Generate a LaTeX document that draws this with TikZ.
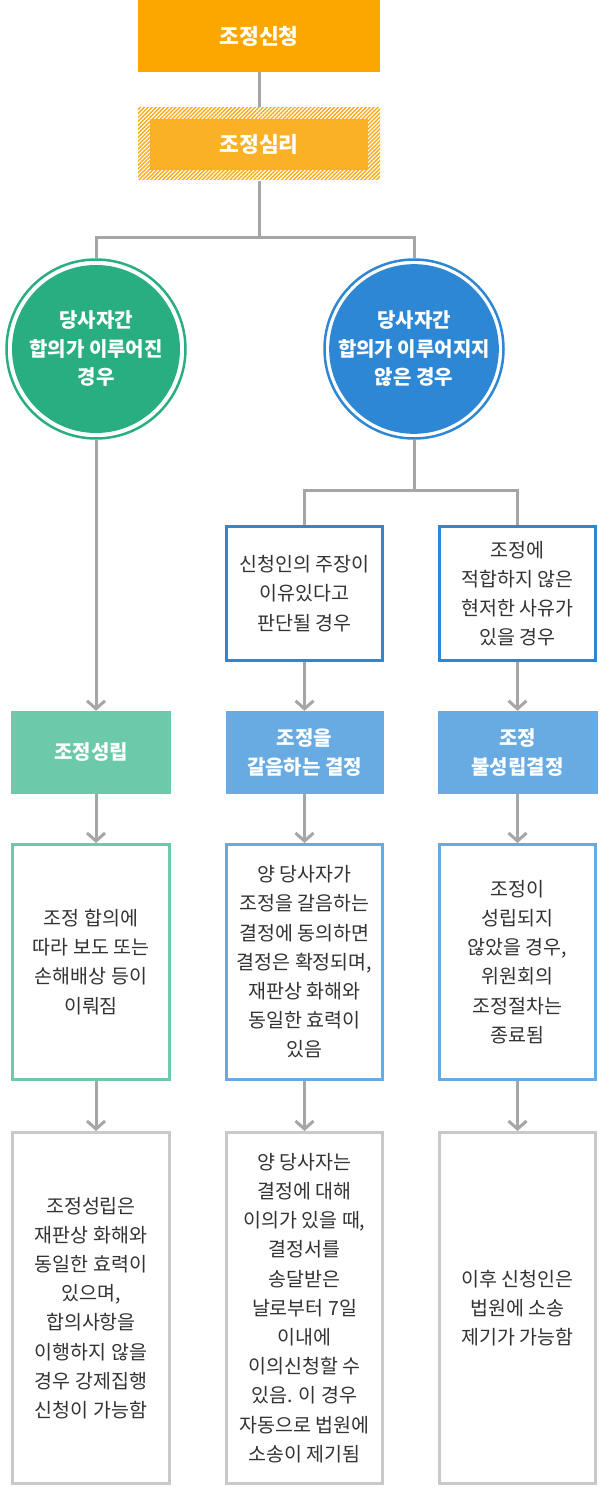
\documentclass[tikz,border=0pt]{standalone}
\usepackage{fontspec}
\setmainfont{Noto Sans CJK KR}
\usetikzlibrary{arrows.meta,patterns.meta}
\definecolor{orangeA}{HTML}{FCA600}
\definecolor{orangeB}{HTML}{FBB126}
\definecolor{hatchc}{HTML}{FBAA14}
\definecolor{greenA}{HTML}{28AE80}
\definecolor{blueA}{HTML}{2E87D4}
\definecolor{greenB}{HTML}{6CC9A9}
\definecolor{blueB}{HTML}{68AAE2}
\definecolor{lineg}{HTML}{A6A6A6}
\definecolor{boxg}{HTML}{C9C9C9}
\definecolor{txt}{HTML}{333333}
\begin{document}
\begin{tikzpicture}[x=1pt,y=-1pt,
  filled/.style={rectangle, inner sep=0pt, align=center, text=white,
    font=\fontsize{20}{29}\selectfont\bfseries},
  outbox/.style={rectangle, draw, line width=3pt, fill=white, inner sep=0pt,
    align=center, text=txt, font=\fontsize{19.5}{29.2}\selectfont},
  ring/.style={circle, draw, line width=2.5pt, minimum size=179pt, inner sep=0pt},
  disc/.style={circle, minimum size=168pt, inner sep=0pt, align=center, text=white,
    font=\fontsize{20}{28.5}\selectfont\bfseries},
  conn/.style={draw=lineg, line width=3pt},
  arr/.style={conn, -{Straight Barb[length=8pt,width=18pt]}}]
\useasboundingbox (0,0) rectangle (598,1487);

% top
\node[filled, fill=orangeA, minimum width=242pt, minimum height=72pt,
  font=\fontsize{21.5}{24}\selectfont\bfseries] (apply) at (259,36) {조정신청};
\node[rectangle, minimum width=242pt, minimum height=72pt, inner sep=0pt,
  pattern={Lines[angle=45,distance=2.8pt,line width=1.4pt]}, pattern color=hatchc]
  (hear) at (259,144) {};
\node[filled, fill=orangeB, minimum width=218pt, minimum height=51pt,
  font=\fontsize{21.5}{24}\selectfont\bfseries] (hearin) at (259,144.5) {조정심리};

% circles
\node[ring, draw=greenA] (cA) at (96,349) {};
\node[disc, fill=greenA] (cAin) at (96,349) {당사자간\\합의가 이루어진\\경우};
\node[ring, draw=blueA] (cB) at (414,349) {};
\node[disc, fill=blueA] (cBin) at (414,349) {당사자간\\합의가 이루어지지\\않은 경우};

% question boxes
\node[outbox, draw=blueA, minimum width=156pt, minimum height=134pt] (mq) at (304.5,593.5)
  {신청인의 주장이\\이유있다고\\판단될 경우};
\node[outbox, draw=blueA, minimum width=156pt, minimum height=134pt] (rq) at (517.5,593.5)
  {조정에\\적합하지 않은\\현저한 사유가\\있을 경우};

% decision boxes
\node[filled, fill=greenB, minimum width=160pt, minimum height=83pt] (ld) at (91,752.5) {조정성립};
\node[filled, fill=blueB, minimum width=158pt, minimum height=83pt] (md) at (304.5,752.5) {조정을\\갈음하는 결정};
\node[filled, fill=blueB, minimum width=160pt, minimum height=83pt] (rd) at (517.5,752.5) {조정\\불성립결정};

% text boxes
\node[outbox, draw=greenB, minimum width=157pt, minimum height=235pt] (lt) at (91,962)
  {조정 합의에\\따라 보도 또는\\손해배상 등이\\이뤄짐};
\node[outbox, draw=blueB, minimum width=156pt, minimum height=235pt] (mt) at (304.5,962)
  {양 당사자가\\조정을 갈음하는\\결정에 동의하면\\결정은 확정되며,\\재판상 화해와\\동일한 효력이\\있음};
\node[outbox, draw=blueB, minimum width=156pt, minimum height=235pt] (rt) at (517.5,962)
  {조정이\\성립되지\\않았을 경우,\\위원회의\\조정절차는\\종료됨};

% gray boxes
\node[outbox, draw=boxg, minimum width=157pt, minimum height=351pt] (lg) at (91,1308)
  {조정성립은\\재판상 화해와\\동일한 효력이\\있으며,\\합의사항을\\이행하지 않을\\경우 강제집행\\신청이 가능함};
\node[outbox, draw=boxg, minimum width=156pt, minimum height=351pt] (mg) at (304.5,1308)
  {양 당사자는\\결정에 대해\\이의가 있을 때,\\결정서를\\송달받은\\날로부터 7일\\이내에\\이의신청할 수\\있음. 이 경우\\자동으로 법원에\\소송이 제기됨};
\node[outbox, draw=boxg, minimum width=156pt, minimum height=351pt] (rg) at (517.5,1308)
  {이후 신청인은\\법원에 소송\\제기가 가능함};

% connectors
\draw[conn] (apply) -- (hear);
\coordinate (f1) at (259,238);
\draw[conn] (hear.south) -- (f1);
\draw[conn] (cA.north) |- (f1) -| (cB.north);
\coordinate (f2) at (414,490);
\draw[conn] (cB.south) -- (f2);
\draw[conn] (mq.north) |- (f2) -| (rq.north);

\draw[arr] (cA.south) -- (cA.south |- ld.north);
\draw[arr] (ld.south -| cA) -- (cA |- lt.north);
\draw[arr] (lt.south -| cA) -- (cA |- lg.north);

\draw[arr] (mq) -- (md);
\draw[arr] (md) -- (mt);
\draw[arr] (mt) -- (mg);
\draw[arr] (rq) -- (rd);
\draw[arr] (rd) -- (rt);
\draw[arr] (rt) -- (rg);
\end{tikzpicture}
\end{document}
